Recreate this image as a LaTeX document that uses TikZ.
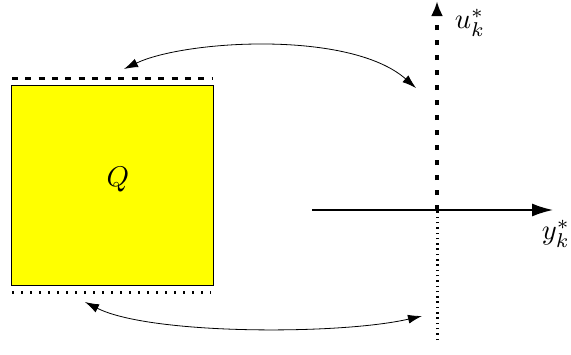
\documentclass[tikz,border=0pt]{standalone}
\usetikzlibrary{arrows.meta}
\definecolor{pureyellow}{RGB}{255,255,0}
\begin{document}
\begin{tikzpicture}[x=1pt,y=-1pt,
  plant/.style={draw=black,line width=0.8pt,fill=pureyellow,minimum width=202pt,minimum height=200pt,inner sep=0pt},
  lbl/.style={scale=2.85,inner sep=0pt},
  topdash/.style={line width=3pt,dash pattern=on 6pt off 7.3pt},
  botdot/.style={line width=3pt,dash pattern=on 1.5pt off 7.5pt},
  axdash/.style={line width=3.5pt,dash pattern=on 5.5pt off 9.5pt},
  axdot/.style={line width=3pt,dash pattern=on 1.5pt off 3.8pt},
  bigtip/.style={-{Latex[length=15pt,width=12pt]}},
  arc/.style={line width=0.8pt,{Latex[length=14pt,width=9pt]}-{Latex[length=14pt,width=9pt]}}]
\useasboundingbox (0,0) rectangle (571,354);
% plant block
\node[plant] (sq) at (112,185) {};
\node[lbl] (q) at (118,180) {$Q$};
\coordinate (tl) at (12,78);
\coordinate (tr) at (213,78);
\coordinate (bl) at (12,292);
\coordinate (br) at (211,292);
\draw[topdash] (tl) -- (tr);
\draw[botdot] (bl) -- (br);
% axes
\coordinate (vb) at (437,340);
\coordinate (vo) at (437,210);
\coordinate (vt) at (437,1);
\coordinate (hl) at (312,210);
\coordinate (hr) at (553,210);
\draw[axdot] (vb) -- (vo);
\draw[axdash,bigtip] (vo) -- (vt);
\draw[line width=1.5pt,-{Latex[length=21pt,width=13pt]}] (hl) -- (hr);
\node[lbl] (u) at (470,23) {$u_k^*$};
\node[lbl] (y) at (556,234) {$y_k^*$};
% arcs
\coordinate (a1) at (124,69);
\coordinate (a2) at (416,88);
\coordinate (b1) at (85,302);
\coordinate (b2) at (422,316);
\draw[arc] (a1) .. controls (185,40) and (350,30) .. (a2);
\draw[arc] (b1) .. controls (150,335) and (340,335) .. (b2);
\end{tikzpicture}
\end{document}
